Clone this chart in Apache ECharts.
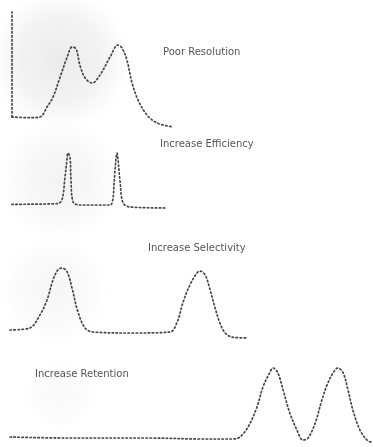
<!DOCTYPE html>
<html>
<head>
<meta charset="utf-8">
<script src="https://cdn.jsdelivr.net/npm/echarts@6/dist/echarts.min.js"></script>
<style>
  html, body { margin: 0; padding: 0; background: #ffffff; }
  #chart { width: 373px; height: 447px; }
</style>
</head>
<body>
<div id="chart"></div>
<script>
// Chromatogram traces: [retention, detector signal] pairs, signal scaled so the tallest peak is 100.
const panelTitles = ['Poor Resolution', 'Increase Efficiency', 'Increase Selectivity', 'Increase Retention'];

const poorResolution = [
  [3.2, 0], [8.0, -1], [10.7, 0], [12.6, 13.9], [14.2, 27.8], [16.1, 55.6], [18.0, 83.3],
  [19.3, 97.2], [20.4, 94.4], [21.4, 72.2], [22.8, 54.2], [24.7, 47.2], [26.8, 58.3],
  [29.5, 83.3], [31.6, 100], [32.7, 95.8], [34.0, 79.2], [35.4, 47.2], [37.0, 23.6],
  [39.4, 2.8], [42.1, -8.3], [46.4, -13.9]
];

const increaseEfficiency = [
  [3.2, -0.6], [15.3, 0.6], [16.6, 7.8], [17.4, 51], [18.0, 90], [18.2, 100], [18.8, 90],
  [19.0, 51], [19.6, 3.9], [21.4, -2], [29.5, -2], [30.3, 11.8], [30.6, 43], [31.4, 100],
  [31.6, 90], [32.2, 43], [33.0, 2], [34.9, -5.9], [44.2, -7.8]
];

const increaseSelectivity = [
  [2.7, 1.6], [8.0, 4.8], [10.7, 25.4], [12.6, 49.2], [14.2, 81], [15.5, 96.8], [16.6, 100],
  [18.0, 93.7], [19.3, 68.3], [20.9, 30.2], [22.8, 4.8], [24.9, -1.6], [35.7, -3.2],
  [45.6, -1.6], [47.5, 14.3], [49.1, 46], [50.9, 73], [52.8, 92], [53.6, 95.2], [55.0, 88.9],
  [56.2, 68], [57.6, 38], [59.0, 12], [60.5, -4], [62.5, -10], [66.5, -11.1]
];

const increaseRetention = [
  [2.7, 1.4], [18.0, 0], [40.2, 0], [53.6, -1.4], [62.5, -1.4], [64.3, 1.4], [66.5, 15.7],
  [68.9, 44.3], [70.5, 72.9], [72.4, 94.3], [73.2, 100], [74.5, 92.9], [75.9, 68.6],
  [77.7, 35.7], [79.6, 11.4], [81.2, -2.9], [82.6, 0], [84.5, 21.4], [86.3, 54.3],
  [87.9, 78.6], [89.8, 97.1], [90.6, 100], [92.0, 92.9], [93.3, 68.6], [94.6, 40],
  [96.5, 11.4], [98.4, -2.9], [100, -7.1]
];

const traces = [poorResolution, increaseEfficiency, increaseSelectivity, increaseRetention];

// Panel layout: pixel row of the signal=100 line and of the signal=0 baseline.
const panels = [
  { peakRow: 45, baseRow: 117, yMin: 0, yMax: 146, left: 12, xMin: 3.2, showAxis: true },
  { peakRow: 153, baseRow: 204, yMin: -12, yMax: 100, left: 0, xMin: 0, showAxis: false },
  { peakRow: 268, baseRow: 331, yMin: -14, yMax: 100, left: 0, xMin: 0, showAxis: false },
  { peakRow: 368, baseRow: 438, yMin: -10, yMax: 100, left: 0, xMin: 0, showAxis: false }
];

const titlePos = [
  { left: 163, top: 47 },
  { left: 160, top: 139 },
  { left: 148, top: 243 },
  { left: 35, top: 369 }
];

const lineColor = '#444444';
const dotStyle = { color: lineColor, width: 1.7, type: [1.4, 2.6], cap: 'round' };

const grids = panels.map(p => {
  const unit = (p.baseRow - p.peakRow) / 100;
  const top = p.baseRow - p.yMax * unit;
  const height = (p.yMax - p.yMin) * unit;
  return { left: p.left, right: 0, top: top, height: height, containLabel: false };
});

const xAxes = panels.map((p, i) => ({
  type: 'value', gridIndex: i, min: p.xMin, max: 100, show: false
}));

const yAxes = panels.map((p, i) => ({
  type: 'value', gridIndex: i, min: p.yMin, max: p.yMax,
  show: p.showAxis,
  axisLine: { show: p.showAxis, lineStyle: dotStyle },
  axisTick: { show: false }, axisLabel: { show: false }, splitLine: { show: false }
}));

const series = traces.map((data, i) => ({
  type: 'line', xAxisIndex: i, yAxisIndex: i, data: data,
  smooth: 0.35, symbol: 'none', clip: false,
  lineStyle: dotStyle
}));

const titles = panelTitles.map((t, i) => ({
  text: t, left: titlePos[i].left, top: titlePos[i].top, padding: 0,
  textStyle: { fontFamily: 'DejaVu Sans', fontSize: 10, fontWeight: 'normal', color: '#555555' }
}));

// Soft grey shading behind the upper-left traces.
function haze(cx, cy, rx, ry, alpha) {
  return {
    type: 'ellipse', z: -10, silent: true,
    shape: { cx: cx, cy: cy, rx: rx, ry: ry },
    style: {
      fill: new echarts.graphic.RadialGradient(0.5, 0.5, 0.5, [
        { offset: 0, color: 'rgba(0,0,0,' + alpha + ')' },
        { offset: 0.6, color: 'rgba(0,0,0,' + (alpha * 0.6) + ')' },
        { offset: 1, color: 'rgba(0,0,0,0)' }
      ])
    }
  };
}

const chart = echarts.init(document.getElementById('chart'), null, { renderer: 'canvas' });
chart.setOption({
  animation: false,
  backgroundColor: '#ffffff',
  graphic: [
    haze(60, 60, 80, 70, 0.08),
    haze(60, 180, 60, 70, 0.045),
    haze(55, 290, 55, 70, 0.035),
    haze(60, 395, 50, 35, 0.025)
  ],
  title: titles,
  grid: grids,
  xAxis: xAxes,
  yAxis: yAxes,
  series: series
});
</script>
</body>
</html>
